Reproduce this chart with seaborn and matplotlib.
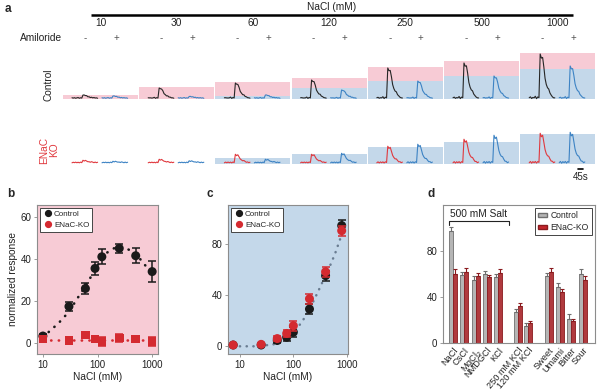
#!/usr/bin/env python3
import numpy as np
import pandas as pd
import seaborn as sns
import matplotlib.pyplot as plt
from matplotlib.lines import Line2D
from matplotlib.patches import Patch
from matplotlib.ticker import NullLocator

# ---- panel a: imaging traces ----
conc_labels = ['10', '30', '60', '120', '250', '500', '1000']
ctrl_box_total = [3, 11, 16, 20, 31, 37, 45]
ctrl_box_amil = [0, 0, 2, 10, 17, 22, 29]
ko_box_amil = [0, 0, 5, 9, 16, 21, 29]
ctrl_peak_minus = [3, 10, 15, 18, 30, 35, 44]
ctrl_peak_plus = [2, 1.5, 3, 8, 17, 22, 32]
ko_peak_minus = [2, 3, 8, 8, 16, 23, 29]
ko_peak_plus = [1, 1.5, 3, 9, 18, 27, 30]
trace_shape = [0.00, 0.03, -0.02, 0.02, 0.00, 0.03, -0.01, 0.02, 0.01, 1.00, 0.90,
               0.93, 0.70, 0.45, 0.30, 0.24, 0.20, 0.12, 0.06, 0.03, 0.00, 0.01]
trace_noise = [0.4, -0.3, 0.6, -0.5, 0.2, 0.7, -0.4, 0.3, -0.2, 0.0, 0.5,
               -0.6, 0.4, -0.3, 0.6, -0.5, 0.3, -0.4, 0.5, -0.2, 0.3, -0.5]

# ---- panel b: amiloride-sensitive ----
b_conc = [10, 30, 60, 90, 120, 250, 500, 1000]
b_ctrl = [3.5, 17.5, 26, 35.5, 41, 45, 41.5, 34]
b_ctrl_err = [1, 2, 2.5, 3, 3.5, 2, 3.5, 5]
b_ko = [2, 1.5, 4, 2, 1, 2.5, 2, 1]
b_ko_err = [1, 1, 1.5, 1.5, 2, 2, 1, 2]
b_fit_x = [10, 15, 20, 30, 42, 60, 70, 100, 150, 200, 300, 400, 600, 800, 1000]
b_fit_ctrl = [3, 7, 10, 15, 21, 27, 30, 37, 43, 45, 45.5, 44, 40, 36, 33]
b_fit_ko = [1.5] * len(b_fit_x)

# ---- panel c: amiloride-insensitive ----
c_conc = [7.5, 25, 50, 75, 100, 200, 400, 800]
c_ctrl = [1, 1, 4.5, 7, 11, 29, 55, 94]
c_ctrl_err = [1, 1, 2, 2.5, 4, 4, 4, 4]
c_ko = [1, 1.5, 6, 10, 16, 37, 58, 90]
c_ko_err = [1, 1, 2, 3, 4, 4, 4, 4]
c_fit_x = [10, 14, 18, 25, 35, 50, 70, 100, 150, 200, 250, 300, 350, 400, 500, 600, 700, 800, 900]
c_fit_y = [0, 0, 0, 0.5, 1, 2, 5, 10, 20, 29, 37, 44, 50, 55, 64, 72, 80, 87, 93]

# ---- panel d: other stimuli ----
d_labels = ['NaCl', 'CsCl', 'MgCl$_2$', 'NMDGCl', 'KCl', '250 mM KCl', '120 mM KCl',
            'Sweet', 'Umami', 'Bitter', 'Sour']
d_ctrl = [97, 59, 55, 60, 57, 27, 15, 58, 49, 21, 60]
d_ctrl_err = [4, 3, 3, 2.5, 3, 3, 2, 3, 3, 4, 4]
d_ko = [60, 62, 58, 57, 61, 32, 17, 62, 44, 19, 55]
d_ko_err = [4, 3, 3, 2, 3, 3, 2, 3, 3, 2, 3]

PINK = '#f7cbd5'
BLUE = '#c4d8ea'
TR_BLACK = '#262626'
TR_BLUE = '#3d83c4'
TR_RED = '#e0393e'
RED = '#d42a30'
SPINE = '#8c8c8c'

sns.set_theme(style='ticks')
plt.rcParams['font.family'] = ['Liberation Sans', 'DejaVu Sans']
plt.rcParams['font.size'] = 7
plt.rcParams['axes.linewidth'] = 0.8

W, H = 600, 390
fig = plt.figure(figsize=(W / 100, H / 100), dpi=100)


def px_axes(x0, y0, x1, y1):
    return fig.add_axes([x0 / W, 1 - y1 / H, (x1 - x0) / W, (y1 - y0) / H])


# panel a: x in seconds (9 s per pixel), y in response units
SEC_PX = 9
ax_ctrl = px_axes(60, 50, 598, 100)
ax_ko = px_axes(60, 125, 598, 165)
for ax in (ax_ctrl, ax_ko):
    ax.set_xlim(0, 538 * SEC_PX)
    ax.axis('off')
ax_ctrl.set_ylim(-2, 48)
ax_ko.set_ylim(-2.5, 37.5)

box_w = 75 * SEC_PX
dt = 1.22 * SEC_PX
t_rel = np.arange(len(trace_shape)) * dt
shape = np.array(trace_shape)
noise = np.array(trace_noise)

for i, lab in enumerate(conc_labels):
    x0 = (3 + i * 76.2) * SEC_PX
    # stimulus boxes
    ax_ctrl.bar(x0, ctrl_box_total[i] + 1, bottom=-1, width=box_w, align='edge', color=PINK, lw=0)
    if ctrl_box_amil[i] > 0:
        ax_ctrl.bar(x0, ctrl_box_amil[i] + 1, bottom=-1, width=box_w, align='edge', color=BLUE, lw=0)
    if ko_box_amil[i] > 0:
        ax_ko.bar(x0, ko_box_amil[i] + 1, bottom=-1, width=box_w, align='edge', color=BLUE, lw=0)
    # traces
    t_minus = x0 + 9 * SEC_PX + t_rel
    t_plus = x0 + 39 * SEC_PX + t_rel
    ax_ctrl.plot(t_minus, ctrl_peak_minus[i] * shape + 0.6 * noise, color=TR_BLACK, lw=0.8)
    ax_ctrl.plot(t_plus, ctrl_peak_plus[i] * shape + 0.6 * noise, color=TR_BLUE, lw=0.8)
    ax_ko.plot(t_minus, ko_peak_minus[i] * shape + 0.6 * noise[::-1], color=TR_RED, lw=0.8)
    ax_ko.plot(t_plus, ko_peak_plus[i] * shape + 0.6 * noise[::-1], color=TR_BLUE, lw=0.8)
    # header
    ax_ctrl.text(x0 + box_w / 2, 75, lab, ha='center', va='center', fontsize=7.3, color='#222')
    ax_ctrl.text(x0 + 22 * SEC_PX, 60, '-', ha='center', va='center', fontsize=7, color='#555')
    ax_ctrl.text(x0 + 53 * SEC_PX, 60, '+', ha='center', va='center', fontsize=7, color='#555')

ax_ctrl.plot([31 * SEC_PX, 513 * SEC_PX], [83, 83], color='black', lw=1.8,
             solid_capstyle='butt', clip_on=False)
ax_ctrl.text(272 * SEC_PX, 91, 'NaCl (mM)', ha='center', va='center', fontsize=7.3, color='#222')
ax_ctrl.text(2 * SEC_PX, 60, 'Amiloride', ha='right', va='center', fontsize=7.3, color='#222')
ax_ctrl.text(-12 * SEC_PX, 13, 'Control', rotation=90, ha='center', va='center', fontsize=7.3, color='#222')
ax_ko.text(-11 * SEC_PX, 12.5, 'ENaC\nKO', rotation=90, ha='center', va='center', fontsize=7.3,
           color=TR_RED, linespacing=0.95)
ax_ko.plot([518 * SEC_PX, 518 * SEC_PX + 45], [-6.5, -6.5], color='black', lw=1.2, clip_on=False)
ax_ko.text(521 * SEC_PX, -14, '45s', ha='center', va='center', fontsize=7, color='#222')


def style_box(ax, face):
    ax.set_facecolor(face)
    for s in ax.spines.values():
        s.set_visible(True)
        s.set_color(SPINE)
        s.set_linewidth(0.8)
    ax.tick_params(length=2.5, width=0.6, color=SPINE, labelsize=7, pad=1.5, labelcolor='#222')


def legend_dots(ax):
    handles = [Line2D([], [], marker='o', ls='none', color='#1a1a1a', markersize=4.2, label='Control'),
               Line2D([], [], marker='o', ls='none', color=RED, markersize=4.2, label='ENaC-KO')]
    leg = ax.legend(handles=handles, loc='upper left', fontsize=5.8, frameon=True, fancybox=False,
                    framealpha=1, edgecolor='#444', borderaxespad=0.35, handletextpad=0.0,
                    borderpad=0.35, labelspacing=0.35, handlelength=1.4)
    leg.get_frame().set_linewidth(0.7)


# panel b
ax_b = px_axes(37, 205, 158, 354)
style_box(ax_b, PINK)
sns.lineplot(x=b_fit_x, y=b_fit_ctrl, ax=ax_b, color='#1a1a1a', lw=1.9,
             linestyle=(0, (0.1, 2.8)), dash_capstyle='round')
sns.lineplot(x=b_fit_x, y=b_fit_ko, ax=ax_b, color=RED, lw=1.9,
             linestyle=(0, (0.1, 2.8)), dash_capstyle='round')
ax_b.errorbar(b_conc, b_ctrl, yerr=b_ctrl_err, fmt='none', ecolor='#1a1a1a', elinewidth=1.1,
              capsize=3, capthick=1.1, zorder=3)
ax_b.errorbar(b_conc, b_ko, yerr=b_ko_err, fmt='none', ecolor=RED, elinewidth=1.1,
              capsize=3, capthick=1.1, zorder=3)
sns.scatterplot(x=b_conc, y=b_ctrl, ax=ax_b, color='#1a1a1a', s=42, edgecolor='none', zorder=4)
sns.scatterplot(x=b_conc, y=b_ko, ax=ax_b, color=RED, s=38, marker='s', edgecolor='none', zorder=4)
ax_b.set_xscale('log')
ax_b.set_xlim(7.8, 1280)
ax_b.set_ylim(-5, 65.5)
ax_b.set_xticks([10, 100, 1000], ['10', '100', '1000'])
ax_b.xaxis.set_minor_locator(NullLocator())
ax_b.set_yticks([0, 20, 40, 60])
ax_b.set_xlabel('NaCl (mM)', fontsize=7.3, labelpad=1.5, color='#222')
ax_b.set_ylabel('normalized response', fontsize=7.3, labelpad=2, color='#222')
legend_dots(ax_b)

# panel c
ax_c = px_axes(228, 205, 348, 354)
style_box(ax_c, BLUE)
sns.lineplot(x=c_fit_x, y=c_fit_y, ax=ax_c, color='#6a7d92', lw=1.8,
             linestyle=(0, (0.1, 2.6)), dash_capstyle='round')
ax_c.errorbar(c_conc, c_ctrl, yerr=c_ctrl_err, fmt='none', ecolor='#1a1a1a', elinewidth=1.1,
              capsize=3, capthick=1.1, zorder=3)
sns.scatterplot(x=c_conc, y=c_ctrl, ax=ax_c, color='#1a1a1a', s=42, edgecolor='none', zorder=4)
ax_c.errorbar(c_conc, c_ko, yerr=c_ko_err, fmt='none', ecolor=RED, elinewidth=1.1,
              capsize=3, capthick=1.1, zorder=5)
sns.scatterplot(x=c_conc, y=c_ko, ax=ax_c, color=RED, s=42, edgecolor='none', zorder=6)
ax_c.set_xscale('log')
ax_c.set_xlim(6, 1050)
ax_c.set_ylim(-6, 110)
ax_c.set_xticks([10, 100, 1000], ['10', '100', '1000'])
ax_c.xaxis.set_minor_locator(NullLocator())
ax_c.set_yticks([0, 40, 80])
ax_c.set_xlabel('NaCl (mM)', fontsize=7.3, labelpad=1.5, color='#222')
ax_c.set_ylabel('')
legend_dots(ax_c)

# panel d
d_pos = [0, 1, 2, 3, 4, 5.75, 6.65, 8.5, 9.5, 10.5, 11.5]
n = len(d_labels)
d_df = pd.DataFrame({
    'pos': d_pos * 2,
    'value': d_ctrl + d_ko,
    'group': ['Control'] * n + ['ENaC-KO'] * n,
})
ax_d = px_axes(443, 205, 595, 343)
style_box(ax_d, 'white')
sns.barplot(data=d_df, x='pos', y='value', hue='group', native_scale=True, width=0.8,
            palette={'Control': '#b5b5b5', 'ENaC-KO': '#c4262c'}, errorbar=None,
            legend=False, linewidth=0.6, ax=ax_d)
errs = d_ctrl_err + d_ko_err
for k, p in enumerate(ax_d.patches):
    ec = '#6f6f6f' if k < n else '#8a1a1e'
    p.set_edgecolor(ec)
    xc = p.get_x() + p.get_width() / 2
    ax_d.errorbar([xc], [p.get_height()], yerr=[[0], [errs[k]]], fmt='none', ecolor=ec,
                  elinewidth=0.8, capsize=1.6, capthick=0.8)
ax_d.set_xlim(-0.9, 12.6)
ax_d.set_ylim(0, 120)
ax_d.set_yticks([0, 40, 80])
ax_d.set_xticks(d_pos, d_labels, rotation=50, ha='right', rotation_mode='anchor', fontsize=6.6)
ax_d.set_xlabel('')
ax_d.set_ylabel('')
ax_d.tick_params(axis='x', length=0, pad=2)
ax_d.plot([-0.35, -0.35, 4.95, 4.95], [103, 106, 106, 103], color='#222', lw=0.8, clip_on=False)
ax_d.text(2.3, 112, '500 mM Salt', ha='center', va='center', fontsize=7.3, color='#222')
leg = ax_d.legend(handles=[Patch(facecolor='#b5b5b5', edgecolor='#6f6f6f', label='Control'),
                           Patch(facecolor='#c4262c', edgecolor='#8a1a1e', label='ENaC-KO')],
                  loc='upper right', fontsize=6.2, frameon=True, fancybox=False, framealpha=1,
                  edgecolor='#444', handlelength=1.0, handleheight=0.35, handletextpad=0.4,
                  borderaxespad=0.35, borderpad=0.4, labelspacing=0.3)
leg.get_frame().set_linewidth(0.7)

# panel letters
for lab, (x, y) in {'a': (5, 9), 'b': (7, 194), 'c': (207, 194), 'd': (427, 194)}.items():
    fig.text(x / W, 1 - y / H, lab, fontsize=8.5, fontweight='bold', ha='left', va='center')

fig.savefig('out.png', dpi=100)
